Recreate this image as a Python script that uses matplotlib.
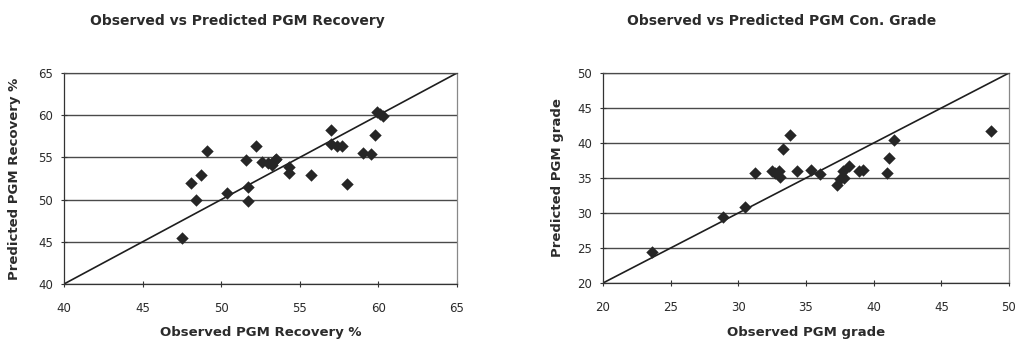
import matplotlib
matplotlib.use("Agg")
import matplotlib.pyplot as plt

# Left chart: PGM recovery
rec_obs = [47.5, 48.1, 48.4, 48.7, 49.1, 50.4, 51.6, 51.7, 51.7, 52.2, 52.6, 53.0, 53.2, 53.4, 53.5,
           54.3, 54.3, 55.7, 57.0, 57.0, 57.35, 57.7, 58.0, 59.0, 59.5, 59.8, 59.9, 60.1, 60.3]
rec_pred = [45.4, 52.0, 50.0, 52.9, 55.7, 50.8, 54.7, 51.5, 49.8, 56.35, 54.4, 54.3, 54.1, 54.7, 54.8,
            53.9, 53.2, 52.9, 58.25, 56.6, 56.35, 56.3, 51.85, 55.55, 55.4, 57.7, 60.4, 60.2, 59.9]

# Right chart: PGM concentrate grade
grd_obs = [23.6, 28.9, 30.5, 31.2, 32.5, 32.7, 33.0, 33.1, 33.3, 33.8, 34.3, 35.4, 36.0,
           37.3, 37.5, 37.8, 37.7, 38.2, 38.9, 39.2, 41.0, 41.1, 41.5, 48.7]
grd_pred = [24.5, 29.4, 30.8, 35.75, 36.0, 35.75, 36.0, 35.1, 39.2, 41.2, 36.0, 36.1, 35.6,
            34.0, 34.8, 34.95, 36.0, 36.7, 36.0, 36.1, 35.7, 37.8, 40.4, 41.7]

charts = [
    dict(x=rec_obs, y=rec_pred, lim=(40, 65), ticks=[40, 45, 50, 55, 60, 65],
         title="Observed vs Predicted PGM Recovery",
         xlabel="Observed PGM Recovery %", ylabel="Predicted PGM Recovery %",
         rect=[64/1019, 1-284/343, (457-64)/1019, (284-73)/343],
         ylab_x=-0.125, xlab_y=-0.232, title_x=237/1019),
    dict(x=grd_obs, y=grd_pred, lim=(20, 50), ticks=[20, 25, 30, 35, 40, 45, 50],
         title="Observed vs Predicted PGM Con. Grade",
         xlabel="Observed PGM grade", ylabel="Predicted PGM grade",
         rect=[603/1019, 1-283/343, (1009-603)/1019, (283-73)/343],
         ylab_x=-0.111, xlab_y=-0.238, title_x=782/1019),
]

plt.rcParams['font.family'] = ['DejaVu Sans']
fig = plt.figure(figsize=(10.19, 3.43), dpi=100)
txt = "#2b2b2b"

for c in charts:
    ax = fig.add_axes(c["rect"])
    lo, hi = c["lim"]
    ax.set_xlim(lo, hi)
    ax.set_ylim(lo, hi)
    ax.set_xticks(c["ticks"])
    ax.set_yticks(c["ticks"])
    ax.yaxis.grid(True, color="#4a4a4a", lw=1.0)
    ax.set_axisbelow(True)
    for s in ax.spines.values():
        s.set_color("#888888")
        s.set_linewidth(0.9)
    ax.spines["left"].set_color("#333333")
    ax.spines["bottom"].set_color("#333333")
    ax.spines["top"].set_color("#4a4a4a")
    ax.plot([lo, hi], [lo, hi], color="#1e1e1e", lw=1.2, zorder=2)
    ax.scatter(c["x"], c["y"], marker="D", s=40, color="#262626", zorder=3, linewidths=0)
    ax.tick_params(axis="both", labelsize=8.5, colors="#333333", length=4, width=0.8,
                   direction="inout", labelcolor=txt)
    ax.tick_params(axis="x", pad=11)
    ax.tick_params(axis="y", pad=6)
    ax.set_xlabel(c["xlabel"], fontsize=9.5, fontweight="bold", color=txt)
    ax.set_ylabel(c["ylabel"], fontsize=9.5, fontweight="bold", color=txt)
    ax.xaxis.set_label_coords(0.5, c["xlab_y"])
    ax.yaxis.set_label_coords(c["ylab_x"], 0.5)
    ax.xaxis.label.set_va("center")
    ax.yaxis.label.set_va("center")
    fig.text(c["title_x"], 1 - 21/343, c["title"], fontsize=10, fontweight="bold",
             color=txt, ha="center", va="center")

fig.savefig("out.png", dpi=100, facecolor="white")
